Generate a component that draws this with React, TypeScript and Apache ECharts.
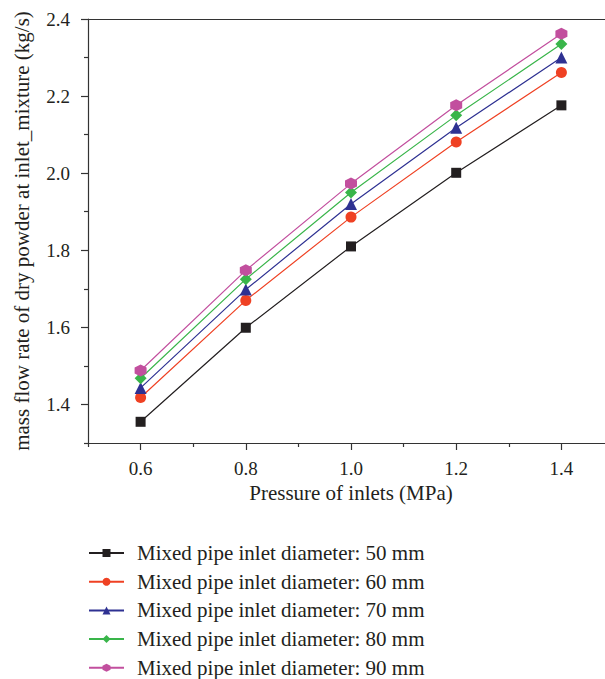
import React, { useEffect, useRef } from "react";
import * as echarts from "echarts";

const pressures = [0.6, 0.8, 1.0, 1.2, 1.4];
const d50 = [1.355, 1.599, 1.81, 2.001, 2.176];
const d60 = [1.418, 1.67, 1.886, 2.081, 2.261];
const d70 = [1.443, 1.698, 1.92, 2.118, 2.3];
const d80 = [1.468, 1.725, 1.95, 2.15, 2.335];
const d90 = [1.488, 1.748, 1.973, 2.176, 2.362];
const seriesNames = [
  "Mixed pipe inlet diameter: 50 mm",
  "Mixed pipe inlet diameter: 60 mm",
  "Mixed pipe inlet diameter: 70 mm",
  "Mixed pipe inlet diameter: 80 mm",
  "Mixed pipe inlet diameter: 90 mm",
];
const xMajorTicks = [0.6, 0.8, 1.0, 1.2, 1.4];
const xMinorTicks = [0.5, 0.7, 0.9, 1.1, 1.3];
const yMajorTicks = [1.4, 1.6, 1.8, 2.0, 2.2, 2.4];
const yMinorTicks = [1.3, 1.5, 1.7, 1.9, 2.1, 2.3];
const colors = ["#231f20", "#ef4123", "#2e3192", "#39b54a", "#c24f9e"];
const symbols = [
  "rect",
  "circle",
  "triangle",
  "path://M0,-1 L1,0 L0,1 L-1,0 Z",
  "path://M0,-1 L0.866,-0.5 L0.866,0.5 L0,1 L-0.866,0.5 L-0.866,-0.5 Z",
];
const symbolSizes = [10, 11, 12, 12, 12];

const FONT = "'Liberation Serif', 'DejaVu Serif', serif";
const AX = "#333333";

export default function App() {
  const ref = useRef<HTMLDivElement>(null);
  useEffect(() => {
    if (!ref.current) return;
    const chart = echarts.init(ref.current, null, { renderer: "svg" });
    const all = [d50, d60, d70, d80, d90];
    const hidden = {
      axisLine: { show: false },
      axisLabel: { show: false },
      splitLine: { show: false },
    };
    chart.setOption({
      animation: false,
      backgroundColor: "#ffffff",
      textStyle: { fontFamily: FONT },
      grid: { left: 88, top: 19, width: 526, height: 424, outerBoundsMode: "none", containLabel: false, show: false },
      legend: {
        orient: "vertical", left: 88, top: 542, padding: 0, itemWidth: 35, itemHeight: 10, itemGap: 6.7,
        textStyle: { fontFamily: FONT, fontSize: 21, color: "#231f20", lineHeight: 22, padding: [0, 0, 0, 8] },
        data: seriesNames,
      },
      xAxis: [
        {
          type: "value", position: "bottom", min: 0.5, max: 1.5,
          name: "Pressure of inlets (MPa)", nameLocation: "middle", nameGap: 39.5,
          nameTextStyle: { fontFamily: FONT, fontSize: 21, color: "#231f20" },
          axisLine: { show: true, lineStyle: { color: AX, width: 1.2 } },
          axisTick: { show: true, inside: false, length: 7, customValues: xMajorTicks, lineStyle: { color: AX, width: 1.2 } },
          splitLine: { show: false },
          axisLabel: { fontFamily: FONT, fontSize: 19, color: "#231f20", margin: 15.5, customValues: xMajorTicks, formatter: (v: number) => v.toFixed(1) },
        },
        {
          type: "value", position: "bottom", min: 0.5, max: 1.5, ...hidden,
          axisTick: { show: true, inside: false, length: 4, customValues: xMinorTicks, lineStyle: { color: AX, width: 1.2 } },
        },
        {
          type: "value", position: "top", min: 0.5, max: 1.5,
          axisLine: { show: true, lineStyle: { color: AX, width: 1.2 } },
          axisTick: { show: false }, axisLabel: { show: false }, splitLine: { show: false },
        },
      ],
      yAxis: [
        {
          type: "value", position: "left", min: 1.3, max: 2.4,
          name: "mass flow rate of dry powder at inlet_mixture (kg/s)", nameLocation: "middle", nameGap: 55.5,
          nameTextStyle: { fontFamily: FONT, fontSize: 21, color: "#231f20" },
          axisLine: { show: true, lineStyle: { color: AX, width: 1.2 } },
          axisTick: { show: true, inside: false, length: 7, customValues: yMajorTicks, lineStyle: { color: AX, width: 1.2 } },
          splitLine: { show: false },
          axisLabel: { fontFamily: FONT, fontSize: 19, color: "#231f20", margin: 18, customValues: yMajorTicks, formatter: (v: number) => v.toFixed(1) },
        },
        {
          type: "value", position: "left", min: 1.3, max: 2.4, ...hidden,
          axisTick: { show: true, inside: false, length: 4, customValues: yMinorTicks, lineStyle: { color: AX, width: 1.2 } },
        },
      ],
      series: all.map((vals, i) => ({
        type: "line", name: seriesNames[i], xAxisIndex: 0, yAxisIndex: 0,
        data: pressures.map((p, j) => [p, vals[j]]),
        symbol: symbols[i], symbolSize: symbolSizes[i], showAllSymbol: true,
        lineStyle: { color: colors[i], width: 1.2 }, itemStyle: { color: colors[i] },
        emphasis: { disabled: true },
      })),
    });
    return () => chart.dispose();
  }, []);
  return (
    <div style={{ position: "fixed", left: 0, top: 0, width: 605, height: 679, overflow: "hidden", background: "#fff" }}>
      <div ref={ref} style={{ width: 625, height: 679 }} />
    </div>
  );
}
